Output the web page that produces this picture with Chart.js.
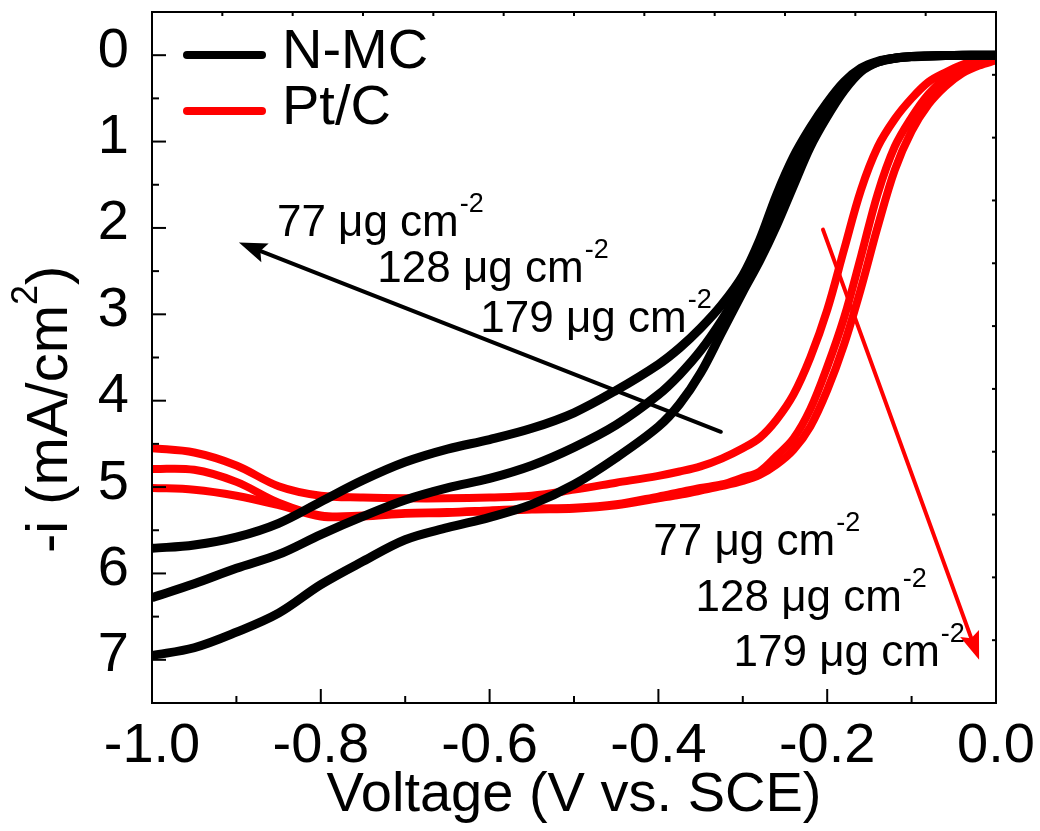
<!DOCTYPE html>
<html>
<head>
<meta charset="utf-8">
<title>N-MC vs Pt/C LSV</title>
<script src="https://cdn.jsdelivr.net/npm/chart.js@4.4.1/dist/chart.umd.min.js"></script>
<style>
  html, body { margin: 0; padding: 0; background: #fff; }
  canvas { display: block; }
</style>
</head>
<body>
<canvas id="chart-lsv" width="1040" height="831"></canvas>
<script>
// potential (V vs. SCE), shared by all six sweeps
const voltage = [-1.0, -0.95, -0.9, -0.85, -0.8, -0.75, -0.7, -0.65, -0.6, -0.55, -0.5, -0.45,
  -0.4, -0.375, -0.35, -0.325, -0.3, -0.28, -0.26, -0.24, -0.22, -0.2, -0.18, -0.16,
  -0.14, -0.12, -0.1, -0.08, -0.06, -0.04, -0.02, 0.0];

// -i (mA/cm2), N-MC at three loadings
const nmc77 = [5.71, 5.67, 5.58, 5.42, 5.17, 4.92, 4.71, 4.56, 4.45, 4.32, 4.14, 3.88,
  3.58, 3.39, 3.16, 2.89, 2.55, 2.14, 1.62, 1.18, 0.84, 0.55, 0.31, 0.15,
  0.07, 0.035, 0.018, 0.01, 0.005, 0.003, 0.001, 0.0];
const nmc128 = [6.28, 6.12, 5.94, 5.78, 5.55, 5.34, 5.15, 5.01, 4.90, 4.75, 4.54, 4.28,
  3.93, 3.70, 3.42, 3.07, 2.66, 2.28, 1.83, 1.39, 0.98, 0.65, 0.35, 0.17,
  0.08, 0.035, 0.015, 0.008, 0.004, 0.002, 0.001, 0.0];
const nmc179 = [6.95, 6.86, 6.68, 6.46, 6.13, 5.86, 5.61, 5.47, 5.35, 5.20, 4.97, 4.66,
  4.30, 4.04, 3.68, 3.21, 2.74, 2.38, 1.97, 1.51, 1.06, 0.71, 0.41, 0.19,
  0.08, 0.035, 0.015, 0.008, 0.004, 0.002, 0.001, 0.0];

// -i (mA/cm2), Pt/C at three loadings
const ptc77 = [4.55, 4.60, 4.75, 4.99, 5.10, 5.12, 5.13, 5.13, 5.12, 5.10, 5.03, 4.95,
  4.87, 4.82, 4.76, 4.67, 4.55, 4.43, 4.22, 3.93, 3.50, 2.95, 2.25, 1.56,
  1.06, 0.74, 0.50, 0.31, 0.20, 0.11, 0.05, 0.02];
const ptc128 = [4.79, 4.80, 4.94, 5.18, 5.33, 5.33, 5.30, 5.29, 5.27, 5.25, 5.24, 5.20,
  5.11, 5.06, 5.01, 4.97, 4.89, 4.82, 4.64, 4.44, 4.10, 3.61, 3.04, 2.33,
  1.60, 1.06, 0.72, 0.45, 0.27, 0.15, 0.08, 0.04];
const ptc179 = [5.01, 5.03, 5.10, 5.21, 5.34, 5.34, 5.31, 5.30, 5.28, 5.26, 5.25, 5.21,
  5.13, 5.09, 5.04, 4.99, 4.93, 4.86, 4.74, 4.57, 4.30, 3.88, 3.35, 2.70,
  1.98, 1.33, 0.88, 0.57, 0.36, 0.21, 0.12, 0.06];

const xTicks = [-1.0, -0.8, -0.6, -0.4, -0.2, 0.0];
const xMinorTicks = [-0.9, -0.7, -0.5, -0.3, -0.1];
const yTicks = [0, 1, 2, 3, 4, 5, 6, 7];
const yMinorTicks = [0.5, 1.5, 2.5, 3.5, 4.5, 5.5, 6.5];

const loadings = ['77', '128', '179'];
const groups = [
  { name: 'N-MC', color: '#000000' },
  { name: 'Pt/C', color: '#ff0000' }
];

// text notes + arrows, anchored in data units
const notes = [
  { x: -0.852, y: 2.09, text: '77 \u03bcg cm', color: '#000' },
  { x: -0.733, y: 2.63, text: '128 \u03bcg cm', color: '#000' },
  { x: -0.611, y: 3.21, text: '179 \u03bcg cm', color: '#000' },
  { x: -0.406, y: 5.79, text: '77 \u03bcg cm', color: '#000' },
  { x: -0.356, y: 6.43, text: '128 \u03bcg cm', color: '#000' },
  { x: -0.311, y: 7.07, text: '179 \u03bcg cm', color: '#000' }
];
const arrows = [
  { from: [-0.326, 4.36], to: [-0.897, 2.17], color: '#000' },
  { from: [-0.205, 2.02], to: [-0.020, 7.0], color: '#ff0000' }
];

const FONT = '"Liberation Sans", Arial, Helvetica, sans-serif';

function pairs(ys) {
  return voltage.map((v, i) => ({ x: v, y: ys[i] }));
}

function drawArrow(ctx, x0, y0, x1, y1, color) {
  const ang = Math.atan2(y1 - y0, x1 - x0);
  const len = 28, half = 10;
  const bx = x1 - Math.cos(ang) * len, by = y1 - Math.sin(ang) * len;
  ctx.strokeStyle = color;
  ctx.fillStyle = color;
  ctx.lineWidth = 4;
  ctx.lineCap = 'round';
  ctx.beginPath();
  ctx.moveTo(x0, y0);
  ctx.lineTo(bx + Math.cos(ang) * 6, by + Math.sin(ang) * 6);
  ctx.stroke();
  ctx.beginPath();
  ctx.moveTo(x1, y1);
  ctx.lineTo(bx - Math.sin(ang) * half, by + Math.cos(ang) * half);
  ctx.lineTo(bx + Math.cos(ang) * 5, by + Math.sin(ang) * 5);
  ctx.lineTo(bx + Math.sin(ang) * half, by - Math.cos(ang) * half);
  ctx.closePath();
  ctx.fill();
}

function line(ctx, x0, y0, x1, y1) {
  ctx.beginPath();
  ctx.moveTo(x0, y0);
  ctx.lineTo(x1, y1);
  ctx.stroke();
}

const decor = {
  id: 'decor',
  afterDatasetsDraw(chart) {
    const { ctx, scales: { x, y } } = chart;
    ctx.save();
    arrows.forEach(a => drawArrow(ctx,
      x.getPixelForValue(a.from[0]), y.getPixelForValue(a.from[1]),
      x.getPixelForValue(a.to[0]), y.getPixelForValue(a.to[1]), a.color));

    ctx.textBaseline = 'alphabetic';
    ctx.textAlign = 'left';
    notes.forEach(n => {
      const px = x.getPixelForValue(n.x), py = y.getPixelForValue(n.y);
      ctx.fillStyle = n.color;
      ctx.font = '44px ' + FONT;
      ctx.fillText(n.text, px, py);
      const w = ctx.measureText(n.text).width;
      ctx.font = '27px ' + FONT;
      ctx.fillText('-2', px + w + 1, py - 24);
    });
    ctx.restore();
  },
  afterDraw(chart) {
    const { ctx, chartArea: a, scales } = chart;
    const x = scales.x, y = scales.y;
    ctx.save();
    ctx.strokeStyle = '#000';
    ctx.lineWidth = 2;
    ctx.lineCap = 'butt';
    ctx.strokeRect(a.left, a.top, a.right - a.left, a.bottom - a.top);

    xTicks.forEach(v => { const p = x.getPixelForValue(v); line(ctx, p, a.bottom, p, a.bottom - 14); });
    xMinorTicks.forEach(v => { const p = x.getPixelForValue(v); line(ctx, p, a.bottom, p, a.bottom - 7); });
    yTicks.forEach(v => { const p = y.getPixelForValue(v); line(ctx, a.left, p, a.left + 14, p); });
    yMinorTicks.forEach(v => { const p = y.getPixelForValue(v); line(ctx, a.left, p, a.left + 7, p); });

    // the opposite axes carry their own unlabeled tick spacing
    const xt = scales.xTop, yr = scales.yRight;
    for (let i = 1; i < 12; i++) { const p = xt.getPixelForValue(i); line(ctx, p, a.top, p, a.top + 4); }
    for (let i = 1; i < 11; i++) { const p = yr.getPixelForValue(i); line(ctx, a.right, p, a.right - 4, p); }

    // legend
    ctx.lineCap = 'round';
    ctx.lineWidth = 8;
    ctx.textBaseline = 'alphabetic';
    ctx.textAlign = 'left';
    groups.forEach((g, i) => {
      const ly = a.top + 43 + i * 56;
      ctx.strokeStyle = g.color;
      line(ctx, a.left + 35, ly, a.left + 110, ly);
      ctx.fillStyle = '#000';
      ctx.font = '56px ' + FONT;
      ctx.fillText(g.name, a.left + 130, ly + 13);
    });

    // y axis title with superscript
    ctx.translate(67, y.getPixelForValue(4.1));
    ctx.rotate(-Math.PI / 2);
    ctx.fillStyle = '#000';
    const main = '-i (mA/cm', sup = '2', tail = ')';
    ctx.font = '58px ' + FONT;
    const w1 = ctx.measureText(main).width, w3 = ctx.measureText(tail).width;
    ctx.font = '36px ' + FONT;
    const w2 = ctx.measureText(sup).width;
    const sx = -(w1 + w2 + w3) / 2;
    ctx.font = '58px ' + FONT;
    ctx.fillText(main, sx, 0);
    ctx.font = '36px ' + FONT;
    ctx.fillText(sup, sx + w1, -30);
    ctx.font = '58px ' + FONT;
    ctx.fillText(tail, sx + w1 + w2, 0);
    ctx.restore();
  }
};

const series = [
  { group: 0, ys: nmc77 }, { group: 0, ys: nmc128 }, { group: 0, ys: nmc179 },
  { group: 1, ys: ptc77 }, { group: 1, ys: ptc128 }, { group: 1, ys: ptc179 }
];

const chart = new Chart(document.getElementById('chart-lsv').getContext('2d'), {
  type: 'line',
  data: {
    datasets: series.map((s, i) => ({
      label: groups[s.group].name + ' ' + loadings[i % 3],
      data: pairs(s.ys),
      borderColor: groups[s.group].color,
      borderWidth: s.group === 0 ? 9 : 8,
      pointRadius: 0,
      fill: false,
      tension: 0.35,
      xAxisID: 'x',
      yAxisID: 'y'
    }))
  },
  options: {
    responsive: false,
    animation: false,
    events: [],
    layout: { padding: { left: 0, right: 44, top: 12, bottom: 0 } },
    plugins: { legend: { display: false }, tooltip: { enabled: false } },
    scales: {
      x: {
        type: 'linear', position: 'bottom', min: -1, max: 0,
        grid: { display: false }, border: { display: false },
        afterBuildTicks: s => { s.ticks = xTicks.map(v => ({ value: v })); },
        afterFit: s => { s.height = 128; s.paddingLeft = 0; s.paddingRight = 0; },
        ticks: {
          autoSkip: false, maxRotation: 0, padding: 2, color: '#000',
          font: { family: FONT, size: 56 },
          callback: v => Number(v).toFixed(1)
        },
        title: {
          display: true, text: 'Voltage (V vs. SCE)', color: '#000',
          font: { family: FONT, size: 56 }, padding: { top: 0, bottom: 2 }
        }
      },
      y: {
        type: 'linear', position: 'left', reverse: true, min: -0.5, max: 7.5,
        grid: { display: false }, border: { display: false },
        afterBuildTicks: s => { s.ticks = yTicks.map(v => ({ value: v })); },
        afterFit: s => { s.width = 152; s.paddingTop = 0; s.paddingBottom = 0; },
        ticks: {
          autoSkip: false, padding: 15, labelOffset: -4, color: '#000',
          font: { family: FONT, size: 56 },
          callback: v => String(v)
        }
      },
      xTop: { type: 'linear', position: 'top', min: 0, max: 12, display: false },
      yRight: { type: 'linear', position: 'right', min: 0, max: 11, display: false }
    }
  },
  plugins: [decor]
});
</script>
</body>
</html>
